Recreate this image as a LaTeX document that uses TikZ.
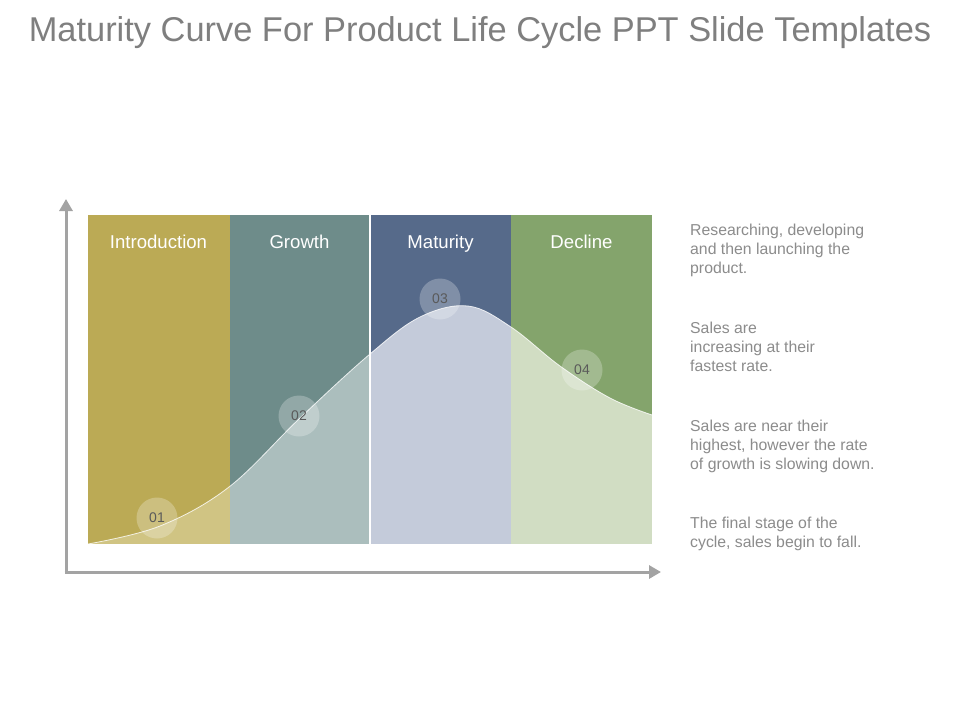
\documentclass[tikz,border=0pt]{standalone}
\usepackage{fontspec}
\setmainfont{Liberation Sans}
\usetikzlibrary{arrows.meta}
\definecolor{titlegray}{HTML}{7F7F7F}
\definecolor{axisgray}{HTML}{A3A3A3}
\definecolor{descgray}{HTML}{8C8C8C}
\definecolor{numgray}{HTML}{5A5A5A}
\definecolor{introD}{HTML}{BBAA55}
\definecolor{introL}{HTML}{D0C483}
\definecolor{growD}{HTML}{6E8C8A}
\definecolor{growL}{HTML}{ABBEBD}
\definecolor{matD}{HTML}{566A8A}
\definecolor{matL}{HTML}{C4CBDA}
\definecolor{decD}{HTML}{84A46C}
\definecolor{decL}{HTML}{D1DDC3}
\tikzset{
  header/.style={anchor=base, text=white, font=\fontsize{18.6}{21}\selectfont},
  numcirc/.style={circle, minimum size=41pt, inner sep=0pt, fill=white, fill opacity=0.25, text opacity=1, text=numgray, font=\fontsize{14}{16}\selectfont},
  desc/.style={anchor=north west, inner sep=0pt, align=left, text=descgray, font=\fontsize{15.8}{19}\selectfont},
  axis/.style={draw=axisgray, line width=3pt, -{Triangle[length=12pt,width=13pt]}}
}
\begin{document}
\begin{tikzpicture}[x=1pt,y=-1pt]
\useasboundingbox[fill=white] (0,0) rectangle (960,720);
% title
\node[text=titlegray, font=\fontsize{34.4}{38}\selectfont] (title) at (480,33) {Maturity Curve For Product Life Cycle PPT Slide Templates};
% dark columns
\fill[introD] (88,215) rectangle (229.5,544);
\fill[growD] (229.5,215) rectangle (370,544);
\fill[matD] (370,215) rectangle (511,544);
\fill[decD] (511,215) rectangle (652,544);
% light area under curve
\begin{scope}
\clip plot[smooth, tension=0.6] coordinates {(88,544) (160,526) (229,487) (300,418) (370,354) (420,317) (468,306) (511,327) (560,366) (610,398) (652,415)} -- (652,544) -- (88,544) -- cycle;
\fill[introL] (88,215) rectangle (229.5,544);
\fill[growL] (229.5,215) rectangle (370,544);
\fill[matL] (370,215) rectangle (511,544);
\fill[decL] (511,215) rectangle (652,544);
\end{scope}
\draw[white, line width=0.8pt, opacity=0.8] plot[smooth, tension=0.6] coordinates {(88,544) (160,526) (229,487) (300,418) (370,354) (420,317) (468,306) (511,327) (560,366) (610,398) (652,415)};
\draw[white, line width=1.5pt] (370,215) -- (370,544);
% headers
\node[header] (h1) at (158.5,248.5) {Introduction};
\node[header] (h2) at (299.5,248.5) {Growth};
\node[header] (h3) at (440.5,248.5) {Maturity};
\node[header] (h4) at (581.5,248.5) {Decline};
% numbered circles
\node[numcirc] (c1) at (157,518) {01};
\node[numcirc] (c2) at (299,416) {02};
\node[numcirc] (c3) at (440,299) {03};
\node[numcirc] (c4) at (582,370) {04};
% axes
\coordinate (origin) at (66,572);
\coordinate (ytip) at (66,199);
\coordinate (xtip) at (661,572);
\draw[axis] ([yshift=-1.5pt]origin) -- (ytip);
\draw[axis] ([xshift=-1.5pt]origin) -- (xtip);
% descriptions
\node[desc] (d1) at (690,224) {Researching, developing\\and then launching the\\product.};
\node[desc] (d2) at (690,322) {Sales are\\increasing at their\\fastest rate.};
\node[desc] (d3) at (690,420) {Sales are near their\\highest, however the rate\\of growth is slowing down.};
\node[desc] (d4) at (690,517) {The final stage of the\\cycle, sales begin to fall.};
\end{tikzpicture}
\end{document}
